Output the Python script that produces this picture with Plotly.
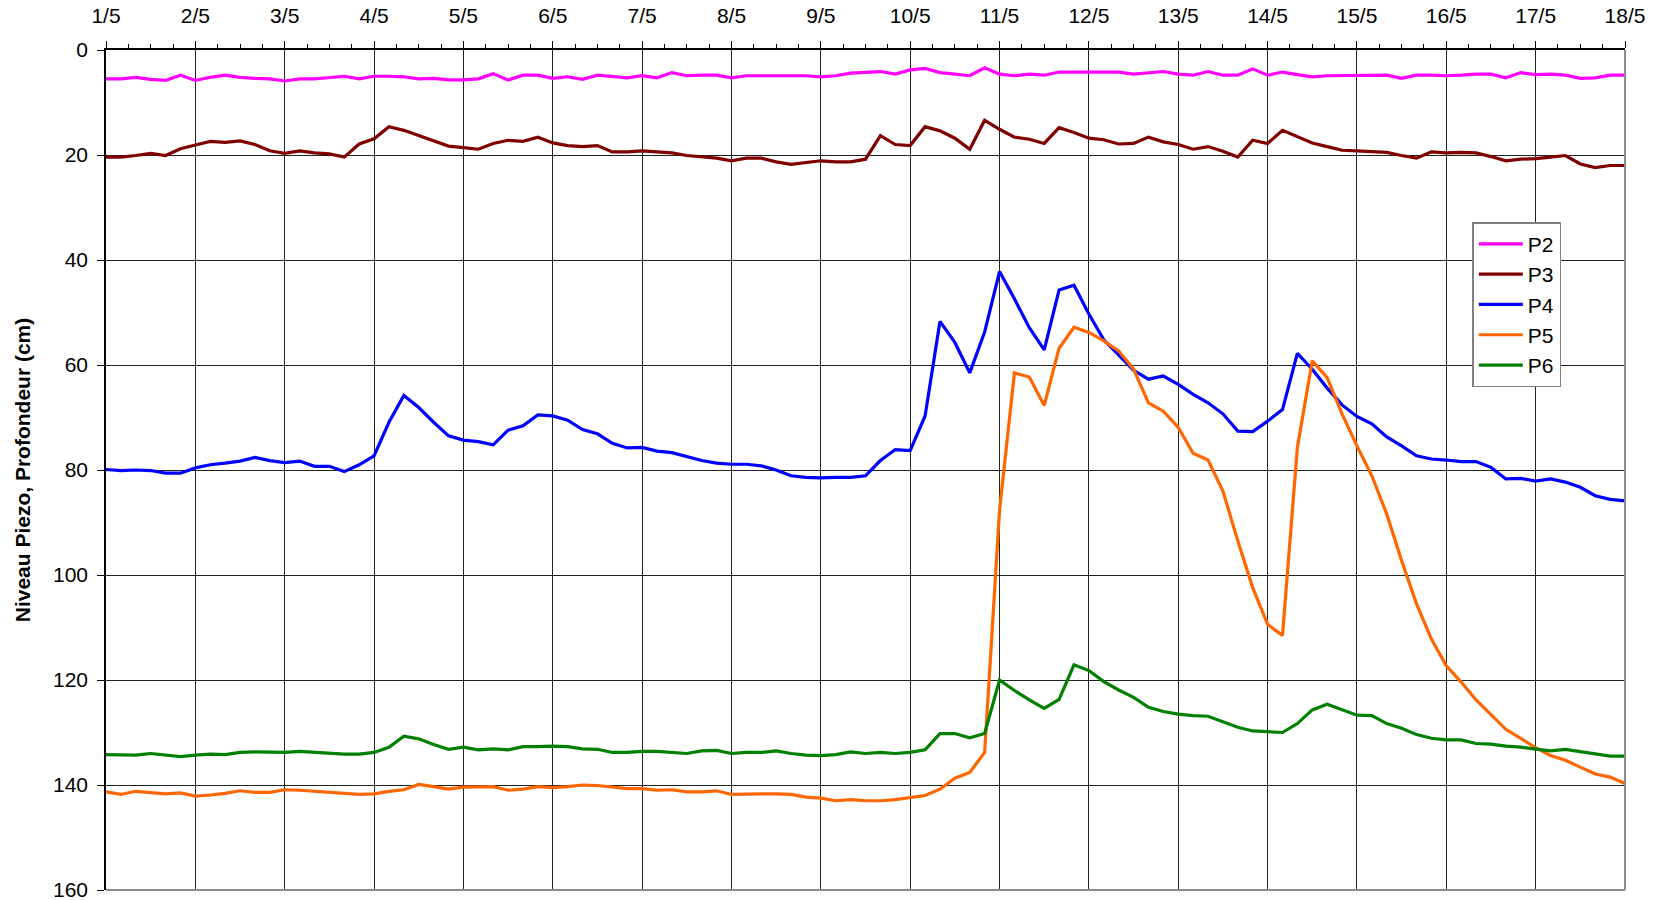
import plotly.graph_objects as go

# Sampling: every 4 hours from 1/5 00h to 18/5 00h (103 samples)
start_day = 1
step_day = 1 / 6

day_ticks = list(range(1, 19))
tick_labels = [f"{d}/5" for d in day_ticks]

P2 = [5.5,5.5,5.2,5.6,5.8,4.8,5.8,5.2,4.8,5.2,5.4,5.5,5.9,5.5,5.5,5.3,5.0,5.5,5.0,5.0,5.1,5.5,5.4,5.7,5.7,5.5,4.5,5.7,4.8,4.8,5.4,
      5.1,5.6,4.8,5.1,5.3,4.9,5.3,4.3,4.9,4.8,4.8,5.3,4.9,4.9,4.9,4.9,4.9,5.1,4.9,4.4,4.3,4.1,4.6,3.8,3.5,4.3,4.6,4.9,3.4,4.6,4.9,4.6,4.8,4.2,4.2,4.2,
      4.3,4.2,4.6,4.4,4.1,4.6,4.8,4.1,4.8,4.8,3.6,4.8,4.2,4.7,5.1,4.9,4.9,4.9,4.8,4.8,5.4,4.8,4.8,4.9,4.8,4.6,4.6,5.3,4.3,4.7,4.6,4.8,5.4,5.3,4.8,4.8]

P3 = [20.4,20.4,20.1,19.7,20.1,18.8,18.1,17.4,17.6,17.3,18.0,19.2,19.7,19.2,19.6,19.8,20.4,17.9,16.9,14.6,15.3,16.3,17.3,18.3,18.6,18.9,17.8,17.2,17.4,16.6,17.7,
      18.2,18.4,18.2,19.4,19.4,19.2,19.4,19.6,20.1,20.4,20.6,21.1,20.6,20.6,21.3,21.8,21.5,21.1,21.3,21.3,20.8,16.3,18.0,18.2,14.6,15.4,16.8,18.9,13.4,15.1,16.6,17.0,17.8,14.8,15.7,16.8,
      17.1,17.9,17.8,16.6,17.5,18.0,18.9,18.4,19.3,20.4,17.2,17.8,15.3,16.5,17.7,18.4,19.1,19.2,19.3,19.5,20.1,20.6,19.4,19.6,19.5,19.6,20.3,21.1,20.8,20.7,20.4,20.1,21.7,22.4,22.0,22.0]

P4 = [79.9,80.1,80.0,80.1,80.6,80.6,79.6,79.0,78.7,78.3,77.6,78.2,78.6,78.3,79.3,79.3,80.3,79.0,77.3,70.9,65.8,68.1,70.9,73.5,74.3,74.6,75.2,72.4,71.6,69.5,69.7,
      70.5,72.3,73.1,74.9,75.8,75.7,76.4,76.7,77.5,78.2,78.7,78.9,78.9,79.2,80.0,81.1,81.4,81.5,81.4,81.4,81.1,78.2,76.1,76.3,69.7,51.7,55.7,61.5,53.7,42.2,47.4,52.9,57.1,45.7,44.8,50.3,
      55.2,58.1,61.0,62.7,62.1,63.7,65.6,67.2,69.3,72.6,72.7,70.7,68.5,57.8,60.8,64.4,67.6,69.8,71.2,73.7,75.4,77.3,77.9,78.1,78.4,78.4,79.5,81.7,81.6,82.1,81.7,82.3,83.3,84.9,85.6,85.9]

P5 = [141.3,141.8,141.2,141.5,141.7,141.5,142.1,141.9,141.6,141.1,141.4,141.4,140.9,141.0,141.2,141.5,141.7,141.8,141.7,141.2,140.9,139.9,140.3,140.8,140.4,140.4,140.3,141.0,140.8,140.3,140.5,
      140.3,140.0,140.1,140.4,140.7,140.7,141.0,140.9,141.3,141.3,141.1,141.8,141.7,141.7,141.7,141.8,142.3,142.5,143.0,142.8,143.0,143.0,142.8,142.4,142.0,140.8,138.7,137.6,133.8,87.7,61.5,62.3,67.7,56.8,52.8,53.8,
      55.4,57.3,60.8,67.2,68.8,71.9,76.8,78.1,84.0,93.5,102.4,109.4,111.5,75.7,59.2,62.4,69.3,75.4,81.1,88.4,97.3,105.5,112.2,117.3,120.4,123.8,126.5,129.4,131.1,132.9,134.4,135.3,136.6,137.9,138.5,139.7]

P6 = [134.2,134.2,134.3,134.0,134.3,134.6,134.3,134.1,134.2,133.8,133.7,133.7,133.8,133.6,133.8,134.0,134.1,134.1,133.8,132.8,130.7,131.2,132.3,133.2,132.8,133.3,133.1,133.3,132.7,132.7,132.6,
      132.7,133.1,133.2,133.8,133.8,133.6,133.6,133.8,134.0,133.5,133.4,134.0,133.8,133.8,133.5,134.0,134.3,134.4,134.2,133.7,134.0,133.8,134.0,133.8,133.3,130.2,130.2,131.0,130.2,120.0,122.0,123.8,125.4,123.7,117.1,118.2,
      120.3,121.9,123.3,125.2,126.0,126.5,126.8,126.9,127.9,129.0,129.7,129.8,130.0,128.3,125.7,124.6,125.7,126.7,126.8,128.3,129.2,130.4,131.1,131.4,131.4,132.1,132.2,132.6,132.8,133.2,133.5,133.2,133.6,134.1,134.5,134.5]

series_names = ["P2", "P3", "P4", "P5", "P6"]
series_values = [P2, P3, P4, P5, P6]
series_colors = ["#FF00FF", "#800000", "#0000FF", "#FF6600", "#008000"]

FONT = "Liberation Sans, Arial, sans-serif"

fig = go.Figure()
for name, vals, col in zip(series_names, series_values, series_colors):
    xs = [start_day + i * step_day for i in range(len(vals))]
    fig.add_trace(go.Scatter(x=xs, y=vals, name=name, mode="lines",
                             line=dict(color=col, width=3.2)))

fig.update_layout(
    width=1655, height=900,
    margin=dict(l=105.5, r=29.5, t=50, b=10),
    paper_bgcolor="white", plot_bgcolor="white",
    font=dict(family=FONT, size=21, color="black"),
    showlegend=True,
    legend=dict(x=0.8995, y=0.795, xanchor="left", yanchor="top",
                bgcolor="white", bordercolor="#808080", borderwidth=1.5,
                font=dict(size=21), tracegroupgap=0, itemwidth=44),
)
fig.update_xaxes(
    side="top", range=[1, 18], tickvals=day_ticks, ticktext=tick_labels,
    showgrid=True, gridcolor="#222222", gridwidth=1,
    showline=True, linecolor="black", linewidth=1.5,
    ticks="outside", ticklen=7, tickcolor="black", ticklabelstandoff=10,
    ticklabeloverflow="allow", automargin=False,
    minor=dict(dtick=0.25, ticks="outside", ticklen=4, tickcolor="black", showgrid=False),
    zeroline=False,
)
fig.update_yaxes(
    range=[160, 0], tick0=0, dtick=20,
    showgrid=True, gridcolor="#222222", gridwidth=1,
    showline=True, linecolor="black", linewidth=1.5,
    ticks="outside", ticklen=7, tickcolor="black", ticklabelstandoff=5,
    ticklabeloverflow="allow", automargin=False,
    zeroline=False,
    title=dict(text="<b>Niveau Piezo, Profondeur (cm)</b>", font=dict(size=21), standoff=17),
)
# grey right and bottom frame
fig.add_shape(type="line", xref="x domain", yref="y domain", x0=1, x1=1, y0=0, y1=1,
              line=dict(color="#8c8c8c", width=2))
fig.add_shape(type="line", xref="x domain", yref="y domain", x0=0, x1=1, y0=0, y1=0,
              line=dict(color="#8c8c8c", width=2))

fig.write_html("out.html", config={"displayModeBar": False},
               post_script="document.body.style.margin='0';")
